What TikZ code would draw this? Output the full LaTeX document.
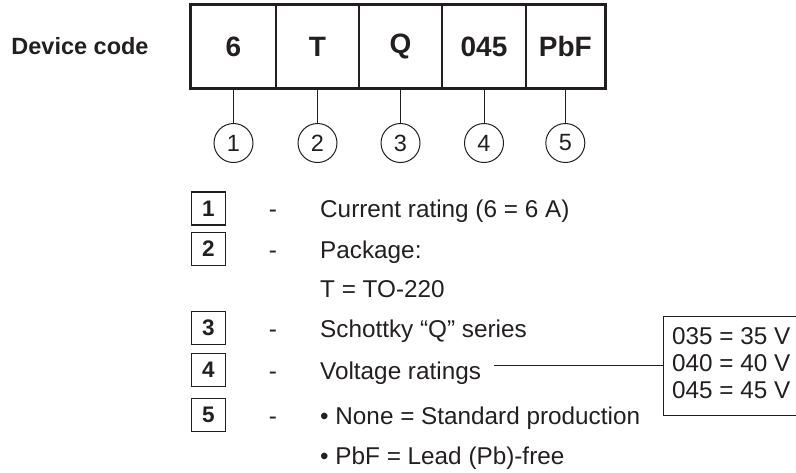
\documentclass[tikz,border=0pt]{standalone}
\usepackage{fontspec}
\setmainfont{Liberation Sans}
\definecolor{ink}{HTML}{231F20}
\begin{document}
\begin{tikzpicture}[x=1pt,y=-1pt,
  every node/.style={text=ink},
  cell/.style={draw=ink, line width=1.3pt, minimum height=83pt, inner sep=0pt, font=\fontsize{28}{28}\selectfont\bfseries},
  numc/.style={circle, draw=ink, line width=1pt, minimum size=39pt, inner sep=0pt, font=\fontsize{23.5}{23.5}\selectfont},
  keybox/.style={draw=ink, line width=1.8pt, minimum width=34pt, minimum height=33pt, inner sep=0pt, font=\fontsize{22.5}{22.5}\selectfont\bfseries},
  desc/.style={anchor=base west, inner sep=0pt, font=\fontsize{24.3}{24.3}\selectfont},
  dashtxt/.style={anchor=base, inner sep=0pt, font=\fontsize{24.3}{24.3}\selectfont},
  wire/.style={draw=ink, line width=1pt}]
\useasboundingbox (0,0) rectangle (796,472);
\clip (0,0) rectangle (796,472);

\node[inner sep=0pt, font=\fontsize{23.5}{23.5}\selectfont\bfseries] (dc) at (80,46) {Device code};

\node[cell, minimum width=85pt] (c1) at (233.5,46.5) {6};
\node[cell, minimum width=83pt] (c2) at (317.5,46.5) {T};
\node[cell, minimum width=83pt] (c3) at (400.5,46.5) {Q};
\node[cell, minimum width=83.7pt] (c4) at (484,46.5) {045};
\node[cell, minimum width=79.3pt] (c5) at (565.3,46.5) {PbF};
\draw[ink, line width=2pt] (c1.north west) rectangle (c5.south east);

\node[numc] (n1) at (233.5,143) {1};
\node[numc] (n2) at (317.5,143) {2};
\node[numc] (n3) at (400.5,143) {3};
\node[numc] (n4) at (484,143) {4};
\node[numc] (n5) at (565.3,143) {5};
\foreach \i in {1,...,5} \draw[wire] (c\i.south) -- (n\i.north);

\node[keybox] (k1) at (208.5,208.5) {1};
\node[keybox] (k2) at (208.5,249) {2};
\node[keybox] (k3) at (208.5,328) {3};
\node[keybox] (k4) at (208.5,370) {4};
\node[keybox] (k5) at (208.5,415) {5};

\node[dashtxt] (d1) at (273,217.1) {-};
\node[dashtxt] (d2) at (273,258.6) {-};
\node[dashtxt] (d3) at (273,337.6) {-};
\node[dashtxt] (d4) at (273,379.6) {-};
\node[dashtxt] (d5) at (273,424.6) {-};

\node[desc] (t1) at (320,217.1) {Current rating (6 = 6 A)};
\node[desc] (t2) at (320,258.6) {Package:};
\node[desc] (t2b) at (320,297.6) {T = TO-220};
\node[desc] (t3) at (320,337.6) {Schottky “Q” series};
\node[desc] (t4) at (320,379.6) {Voltage ratings};
\node[desc] (t5) at (320,424.6) {• None = Standard production};
\node[desc] (t5b) at (320,464.6) {• PbF = Lead (Pb)-free};

\node[draw=ink, line width=1pt, minimum width=260pt, minimum height=99pt, inner sep=0pt] (rb) at (793,365.5) {};
\node[desc] (v1) at (672,344.6) {035 = 35 V};
\node[desc] (v2) at (672,371.6) {040 = 40 V};
\node[desc] (v3) at (672,398.6) {045 = 45 V};

\coordinate (ws) at ([xshift=13pt]t4.east |- rb.west);
\draw[wire] (ws) -- (rb.west);
\end{tikzpicture}
\end{document}
